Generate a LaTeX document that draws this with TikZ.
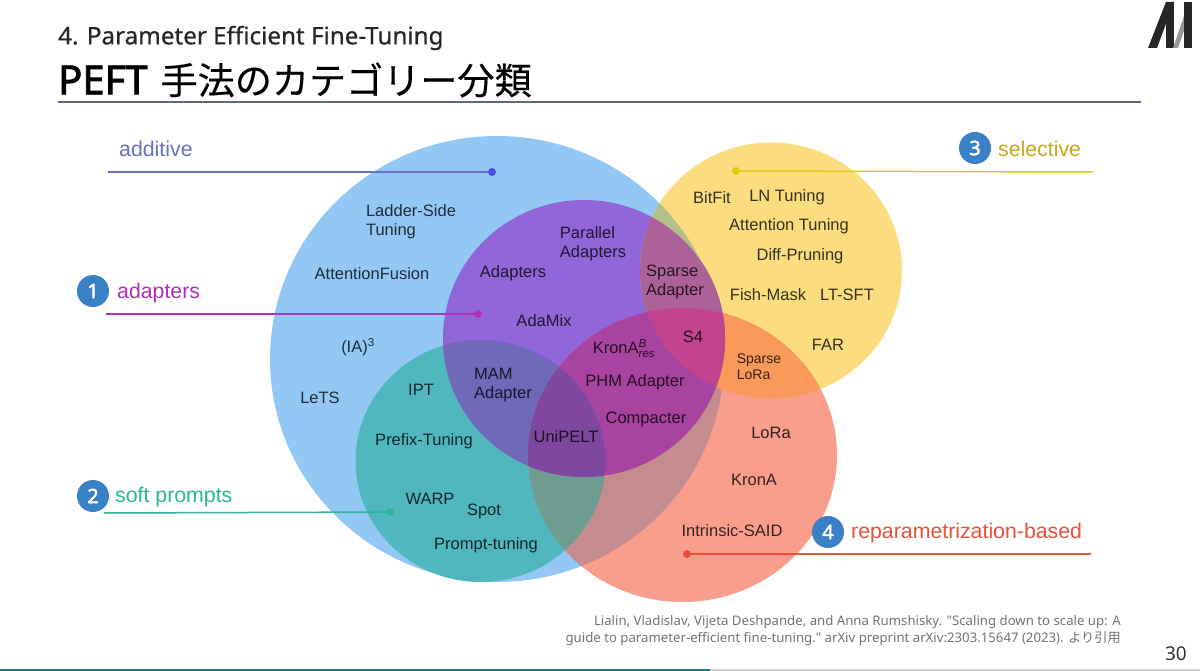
\documentclass[tikz,border=0pt]{standalone}
\usepackage{amsmath}
\usepackage{fontspec}
\setmainfont{Liberation Sans}
\newfontfamily\slidefont{Noto Sans}
\newfontfamily\slidemed[FakeBold=0.5]{Noto Sans}
\newfontfamily\slidebold[FakeBold=2.2]{Noto Sans}
\newfontfamily\cjkfont[FakeBold=0.3]{Noto Sans CJK JP}
\newfontfamily\cjkplain{Noto Sans CJK JP}
\definecolor{cBlue}{HTML}{93C8F5}
\definecolor{cPurple}{HTML}{9166D8}
\definecolor{cTeal}{HTML}{50B7BF}
\definecolor{cYellow}{HTML}{FBDD7F}
\definecolor{cRed}{HTML}{F99E8C}
\definecolor{cBlueRed}{HTML}{C58C90}
\definecolor{cTealRed}{HTML}{6F9C90}
\definecolor{cPurpleTeal}{HTML}{7068B8}
\definecolor{cPurpleRed}{HTML}{A843A0}
\definecolor{cTriple}{HTML}{7F479F}
\definecolor{cBlueYellow}{HTML}{B4C08C}
\definecolor{cPurpleYellow}{HTML}{AC6298}
\definecolor{cRedYellow}{HTML}{F99A5A}
\definecolor{cS}{HTML}{C2448E}
\definecolor{cNum}{HTML}{3A80C4}
\definecolor{cRule}{HTML}{5A6A85}
\definecolor{cBar}{HTML}{1E7F78}
\definecolor{cA}{HTML}{6A6FC4}
\definecolor{cAd}{HTML}{B030B8}
\definecolor{cSo}{HTML}{2CB59A}
\definecolor{cSe}{HTML}{C8A818}
\definecolor{cR}{HTML}{E8523A}
\tikzset{
  x=1pt,y=-1pt,
  item/.style={font=\fontsize{16.5}{19}\selectfont,text=black,text opacity=0.78,align=left,inner sep=0pt,yshift=-1.5pt},
  cat/.style={font=\fontsize{21.3}{24}\selectfont,inner sep=0pt,anchor=west,yshift=-1.5pt},
  num/.style={circle,fill=cNum,text=white,minimum size=32pt,inner sep=0pt,font=\slidebold\fontsize{20}{20}\selectfont},
  dot/.style={circle,inner sep=0pt,minimum size=8pt},
  leader/.style={line width=1.5pt},
}
% the five sets of the diagram
\newcommand{\cBl}{(497,359) ellipse [x radius=227,y radius=223]}
\newcommand{\cPu}{(584,338.5) ellipse [x radius=141,y radius=138.5]}
\newcommand{\cTe}{(480.5,461) ellipse [x radius=125,y radius=121]}
\newcommand{\cYe}{(771,270.5) ellipse [x radius=131,y radius=128]}
\newcommand{\cRe}{(682.5,455) ellipse [x radius=154.5,y radius=147]}
\begin{document}
\begin{tikzpicture}
\useasboundingbox (0,0) rectangle (1200,671);
\fill[white] (0,0) rectangle (1200,671);
% single sets
\fill[cBlue] \cBl;
\fill[cYellow] \cYe;
\fill[cRed] \cRe;
\fill[cTeal] \cTe;
\fill[cPurple] \cPu;
% pairwise overlaps
\begin{scope}\clip \cBl; \fill[cBlueYellow] \cYe; \fill[cBlueRed] \cRe; \end{scope}
\begin{scope}\clip \cRe; \fill[cRedYellow] \cYe; \fill[cTealRed] \cTe; \fill[cPurpleRed] \cPu; \end{scope}
\begin{scope}\clip \cPu; \fill[cPurpleTeal] \cTe; \fill[cPurpleYellow] \cYe; \end{scope}
% triple overlaps
\begin{scope}\clip \cPu; \clip \cRe; \fill[cTriple] \cTe; \fill[cS] \cYe; \end{scope}

% title block
\node[anchor=west,inner sep=0pt,font=\slidemed\fontsize{24.2}{28}\selectfont,text=black!85] (sub) at (58,38) {4. Parameter Efficient Fine-Tuning};
\node[anchor=west,inner sep=0pt] (ttl) at (58,80) {{\slidebold\fontsize{40}{42}\selectfont PEFT}\hspace{13pt}{\cjkfont\fontsize{37.1}{42}\selectfont 手法のカテゴリー分類}};
\draw[line width=2.2pt,color=cRule] (58,102) -- (1141,102);
% logo
\fill[black!85] (1148,48) -- (1166,2) -- (1174,2) -- (1157,48) -- cycle;
\fill[black!85] (1166,2) -- (1174,2) -- (1174,48) -- (1166,48) -- cycle;
\fill[black!40] (1173,48) -- (1185,13) -- (1185,28) -- (1178,48) -- cycle;
\fill[black!85] (1184,2) -- (1192,2) -- (1192,48) -- (1184,48) -- cycle;

% category labels with leader lines
\node[cat,text=cA] (lA) at (119,147.5) {additive};
\node[dot,fill=cA!70!blue] (dA) at (492,172) {};
\coordinate (eA) at (108,172);
\draw[leader,cA] (eA) -- (dA);
\node[num] (n1) at (93,291) {1};
\node[cat,text=cAd] (lB) at (117,291) {adapters};
\node[dot,fill=cAd] (dB) at (478,314) {};
\coordinate (eB) at (106,314);
\draw[leader,cAd] (eB) -- (dB);
\node[num] (n2) at (93,496) {2};
\node[cat,text=cSo] (lC) at (115,496) {soft prompts};
\node[dot,fill=cSo] (dC) at (390,512) {};
\coordinate (eC) at (104,513);
\draw[leader,cSo] (eC) -- (dC);
\node[num] (n3) at (975,148) {3};
\node[cat,text=cSe] (lD) at (998,147.5) {selective};
\node[dot,fill=cSe!60!yellow] (dD) at (736,171) {};
\coordinate (eD) at (1093,172);
\draw[leader,cSe!60!yellow] (eD) -- (dD);
\node[num] (n4) at (828,532) {4};
\node[cat,text=cR] (lE) at (851,531) {reparametrization-based};
\node[dot,fill=cR] (dE) at (687,554) {};
\coordinate (eE) at (1091,554);
\draw[leader,cR] (eE) -- (dE);

% methods
\node[item] (m1) at (411,220) {Ladder-Side\\Tuning};
\node[item] (m2) at (372,272) {AttentionFusion};
\node[item] (m3) at (358,346) {(IA)$^{\text{3}}$};
\node[item] (m4) at (320,396) {LeTS};
\node[item] (m5) at (421,388) {IPT};
\node[item] (m6) at (424,440) {Prefix-Tuning};
\node[item] (m7) at (430,497) {WARP};
\node[item] (m8) at (484,510) {Spot};
\node[item] (m9) at (486,544) {Prompt-tuning};
\node[item] (m10) at (503,384) {MAM\\Adapter};
\node[item] (m11) at (566,435) {UniPELT};
\node[item] (m12) at (513,272) {Adapters};
\node[item] (m13) at (544,319) {AdaMix};
\node[item] (m14) at (593,242) {Parallel\\Adapters};
\node[item] (m15) at (675,280) {Sparse\\Adapter};
\node[item] (m16) at (693,335) {S4};
\node[item] (m17) at (624,347) {KronA$^{\text{\itshape B}}_{\text{\itshape res}}$};
\node[item] (m18) at (635,381) {PHM Adapter};
\node[item] (m19) at (646,418) {Compacter};
\node[item,font=\fontsize{14}{16}\selectfont] (m20) at (759,365) {Sparse\\LoRa};
\node[item] (m21) at (771,431) {LoRa};
\node[item] (m22) at (754,478) {KronA};
\node[item] (m23) at (732,529) {Intrinsic-SAID};
\node[item] (m24) at (712,196) {BitFit};
\node[item] (m25) at (787,196) {LN Tuning};
\node[item] (m26) at (789,225) {Attention Tuning};
\node[item] (m27) at (800,255) {Diff-Pruning};
\node[item] (m28) at (768,293) {Fish-Mask};
\node[item] (m29) at (847,293) {LT-SFT};
\node[item] (m30) at (828,343) {FAR};

% citation, page number and footer bar
\node[anchor=north east,align=right,inner sep=0pt,text=black!55,font=\slidefont\fontsize{13.2}{17}\selectfont] (cite) at (1121,615) {Lialin, Vladislav, Vijeta Deshpande, and Anna Rumshisky. "Scaling down to scale up: A\\guide to parameter-efficient fine-tuning." arXiv preprint arXiv:2303.15647 (2023). {\cjkplain より引用}};
\node[anchor=east,inner sep=0pt,font=\slidefont\fontsize{19}{22}\selectfont,text=black!80] (pg) at (1187,654) {30};
\fill[black!20] (710,668.5) rectangle (1200,671);
\fill[cBar] (0,668.5) rectangle (710,671);
\end{tikzpicture}
\end{document}
